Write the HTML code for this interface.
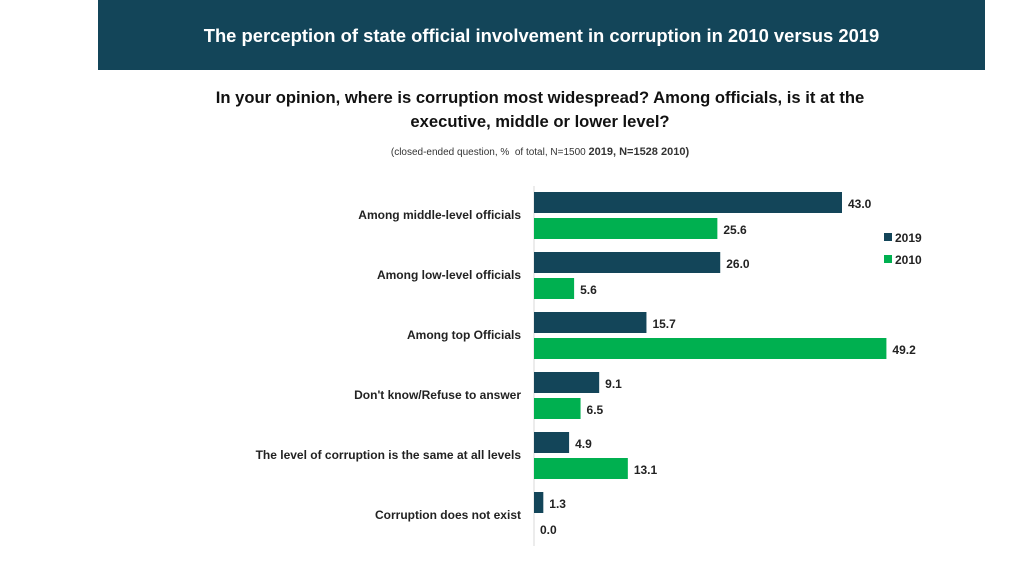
<!DOCTYPE html>
<html><head><meta charset="utf-8"><style>
body{margin:0;width:1024px;height:576px;background:#fff;font-family:"Liberation Sans",sans-serif;position:relative;overflow:hidden}
.hdr{position:absolute;left:98px;top:0;width:887px;height:70px;background:#134559;color:#fff;font-weight:bold;font-size:18.4px;text-align:center;line-height:72px}
.q{position:absolute;left:150px;width:780px;top:86px;text-align:center;font-weight:bold;font-size:16.6px;line-height:24px;color:#111}
.sub{position:absolute;left:240px;width:600px;top:146px;text-align:center;font-size:10px;color:#333}
.sub b{font-size:11px}
</style></head><body>
<div class="hdr">The perception of state official involvement in corruption in 2010 versus 2019</div>
<div class="q">In your opinion, where is corruption most widespread? Among officials, is it at the<br>executive, middle or lower level?</div>
<div class="sub">(closed-ended question, %&nbsp; of total, N=1500 <b>2019, N=1528 2010)</b></div>
<svg id="chart" width="1024" height="576" style="position:absolute;left:0;top:0"></svg>
<script>
const categories=["Among middle-level officials","Among low-level officials","Among top Officials","Don't know/Refuse to answer","The level of corruption is the same at all levels","Corruption does not exist"];
const values2019=[43.0,26.0,15.7,9.1,4.9,1.3];
const values2010=[25.6,5.6,49.2,6.5,13.1,0.0];
const seriesNames=["2019","2010"];
const C19="#134559",C10="#00b050";
const svg=document.getElementById('chart');
const NS="http://www.w3.org/2000/svg";
const x0=534,scale=308/43;
const xs=v=>x0+v*scale;
const ys=i=>192+i*60;
function mk(t,a){const e=document.createElementNS(NS,t);for(const k in a)e.setAttribute(k,a[k]);svg.appendChild(e);return e;}
const ax=mk('line',{x1:x0,x2:x0,y1:186,y2:546,stroke:'#d9d9d9','stroke-width':1});


categories.forEach((c,i)=>{
  const y=ys(i);
  const lab=mk('text',{x:521,y:y+27,'text-anchor':'end','font-size':12,'font-weight':'bold',fill:'#222'});
  lab.textContent=c;
  
  
  [[values2019[i],C19,0],[values2010[i],C10,26]].forEach(([v,col,off],s)=>{
    const w=xs(v)-x0;
    if(w>0){const r=mk('rect',{x:x0,y:y+off,width:w,height:21,fill:col});
    
    }
    const t=mk('text',{x:xs(v)+6,y:y+off+16,'font-size':12,'font-weight':'bold',fill:'#222'});
    t.textContent=v.toFixed(1);
    
    
  });
});
seriesNames.forEach((n,i)=>{
  const y=233+i*22;
  const r=mk('rect',{x:884,y:y,width:8,height:8,fill:i?C10:C19});
  
  
  const t=mk('text',{x:895,y:y+9,'font-size':12,'font-weight':'bold',fill:'#222'});
  t.textContent=n;
  
  
});
</script>
</body></html>
